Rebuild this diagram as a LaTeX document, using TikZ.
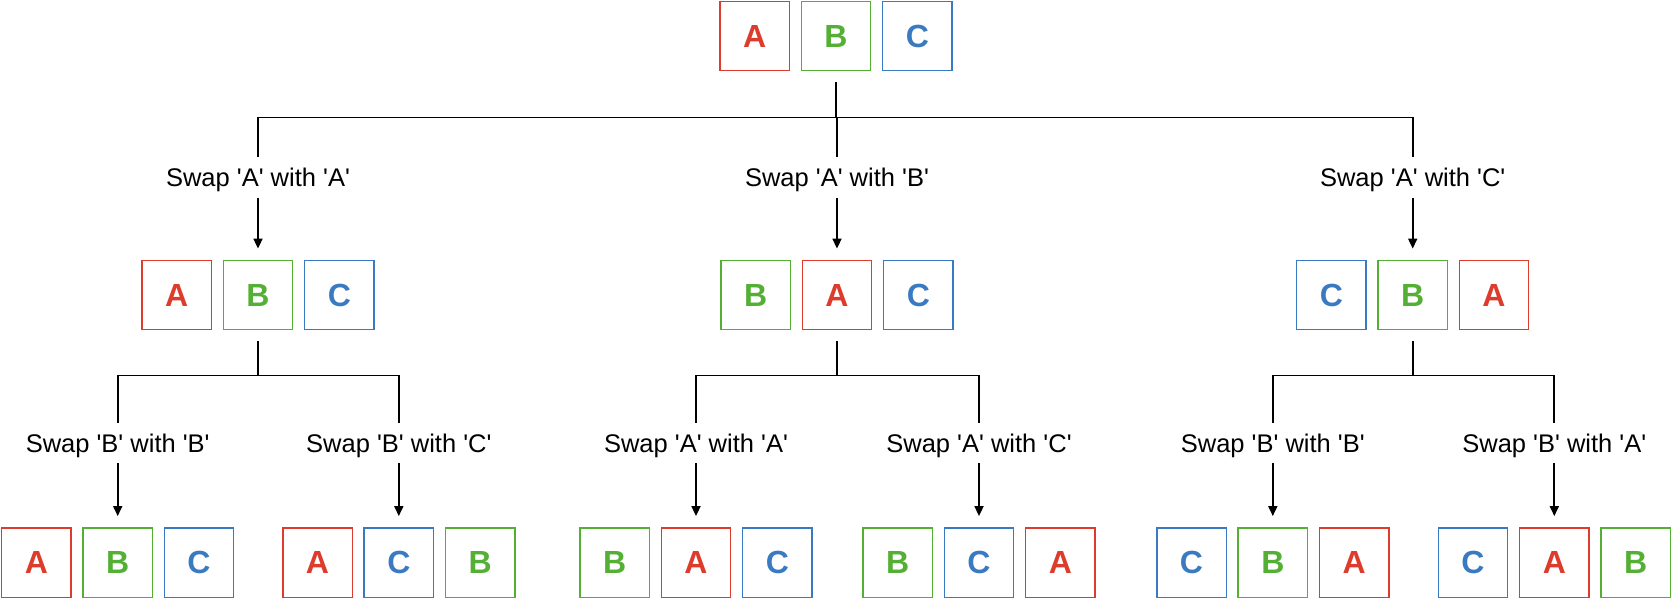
\documentclass[tikz,border=0pt]{standalone}
\usepackage{fontspec}
\setmainfont{Liberation Sans}
\usetikzlibrary{arrows.meta}
\definecolor{cA}{RGB}{221,60,44}
\definecolor{cB}{RGB}{84,176,52}
\definecolor{cC}{RGB}{58,122,192}
\newcommand{\qt}[1]{\textquotesingle#1\textquotesingle}
\newcommand{\trio}[6]{%
  \node[bx#4] (#1-1) at (#2-81.3,#3) {#4};
  \node[bx#5] (#1-2) at (#2,#3) {#5};
  \node[bx#6] (#1-3) at (#2+81.3,#3) {#6};}
\tikzset{
  bx/.style={draw, line width=1.4pt, minimum size=69.4pt, inner sep=0pt,
    font=\fontsize{32pt}{32pt}\selectfont\bfseries},
  bxA/.style={bx, draw=cA, text=cA},
  bxB/.style={bx, draw=cB, text=cB},
  bxC/.style={bx, draw=cC, text=cC},
  lab/.style={inner sep=0pt, text height=18pt, text depth=5pt,
    font=\fontsize{25.5pt}{25.5pt}\selectfont},
  conn/.style={line width=1.7pt, black},
  arr/.style={conn, -{Triangle[width=9pt,length=10pt]}}
}
\begin{document}
\begin{tikzpicture}[x=1pt,y=-1pt]
\useasboundingbox (0,0) rectangle (1672,601);
% top
\trio{t}{836}{36}{A}{B}{C}
% level 1
\trio{l}{258}{295}{A}{B}{C}
\trio{m}{837}{295}{B}{A}{C}
\trio{r}{1412.7}{295}{C}{B}{A}
% level 2
\trio{ll}{117.7}{562.5}{A}{B}{C}
\trio{lr}{398.8}{562.5}{A}{C}{B}
\trio{ml}{696}{562.5}{B}{A}{C}
\trio{mr}{979}{562.5}{B}{C}{A}
\trio{rl}{1272.8}{562.5}{C}{B}{A}
\trio{rr}{1554.3}{562.5}{C}{A}{B}
% labels level 1
\node[lab] (sl) at (258,180) {Swap \qt{A} with \qt{A}};
\node[lab] (sm) at (837,180) {Swap \qt{A} with \qt{B}};
\node[lab] (sr) at (1412.7,180) {Swap \qt{A} with \qt{C}};
% labels level 2
\node[lab] (sll) at (117.7,445.5) {Swap \qt{B} with \qt{B}};
\node[lab] (slr) at (398.8,445.5) {Swap \qt{B} with \qt{C}};
\node[lab] (sml) at (696,445.5) {Swap \qt{A} with \qt{A}};
\node[lab] (smr) at (979,445.5) {Swap \qt{A} with \qt{C}};
\node[lab] (srl) at (1272.8,445.5) {Swap \qt{B} with \qt{B}};
\node[lab] (srr) at (1554.3,445.5) {Swap \qt{B} with \qt{A}};
% connectors top -> level 1
\foreach \s in {sl,sm,sr}
  \draw[conn] ([yshift=-11pt]t-2.south) -- ++(0,35) -| ([yshift=11pt]\s.north);
\draw[arr] ([yshift=-6pt]sl.south) -- ([yshift=11pt]l-2.north);
\draw[arr] ([yshift=-6pt]sm.south) -- ([yshift=11pt]m-2.north);
\draw[arr] ([yshift=-6pt]sr.south) -- ([yshift=11pt]r-2.north);
% level 1 -> level 2
\foreach \p/\a/\b in {l/ll/lr, m/ml/mr, r/rl/rr}{
  \draw[conn] ([yshift=-11pt]\p-2.south) -- ++(0,34) -| ([yshift=11pt]s\a.north);
  \draw[conn] ([yshift=-11pt]\p-2.south) -- ++(0,34) -| ([yshift=11pt]s\b.north);
  \draw[arr] ([yshift=-6pt]s\a.south) -- ([yshift=11pt]\a-2.north);
  \draw[arr] ([yshift=-6pt]s\b.south) -- ([yshift=11pt]\b-2.north);
}
\end{tikzpicture}
\end{document}
